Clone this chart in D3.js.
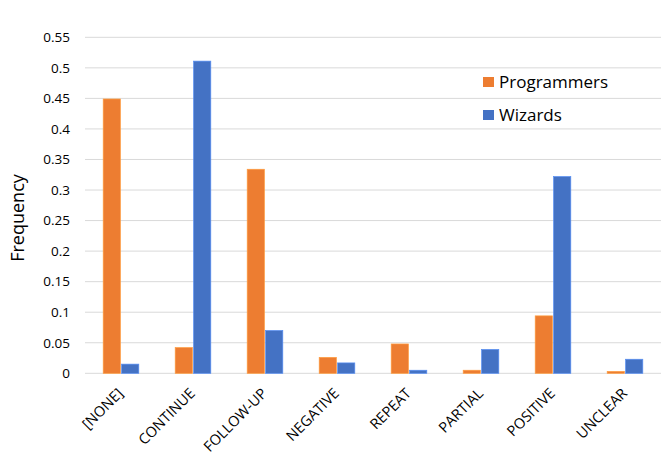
<!DOCTYPE html>
<html><head><meta charset="utf-8">
<script src="https://cdn.jsdelivr.net/npm/d3@7"></script>
<style>body{margin:0;background:#fff;} text{font-family:"Open Sans","Noto Sans",sans-serif;fill:#000;}</style>
</head><body>
<svg id="chart" width="663" height="466"></svg>
<script>
const categories = ["[NONE]","CONTINUE","FOLLOW-UP","NEGATIVE","REPEAT","PARTIAL","POSITIVE","UNCLEAR"];
const seriesNames = ["Programmers","Wizards"];
const programmers = [0.449,0.042,0.334,0.026,0.048,0.005,0.094,0.003];
const wizards = [0.015,0.511,0.070,0.017,0.005,0.039,0.322,0.023];
const yTicks = [0,0.05,0.1,0.15,0.2,0.25,0.3,0.35,0.4,0.45,0.5,0.55];
const colors = ["#ED7D31","#4472C4"];

const svg = d3.select("#chart");
const pLeft = 85, pRight = 661, pTop = 37.3, pBottom = 373.3;
const x = d3.scaleBand().domain(categories).range([pLeft, pRight]).paddingInner(0).paddingOuter(0);
const y = d3.scaleLinear().domain([0,0.55]).range([pBottom, pTop]);
const xs = d3.scaleBand().domain(seriesNames).range([0, 35.6]).paddingInner(0.07);

// gridlines
svg.append("g").selectAll("line").data(yTicks).join("line")
  .attr("x1", pLeft).attr("x2", pRight)
  .attr("y1", d => y(d)).attr("y2", d => y(d))
  .attr("stroke", "#d9d9d9").attr("stroke-width", 1);

// y axis labels
const yAxis = d3.axisLeft(y).tickValues(yTicks).tickFormat(d => String(+d.toFixed(2))).tickSize(0).tickPadding(0);
const ga = svg.append("g").attr("transform", `translate(70,0)`).call(yAxis);
ga.select(".domain").remove();
ga.selectAll("text").attr("font-size", 13.5).attr("fill", "#000").style("font-family", '"Open Sans",sans-serif');

// bars
const data = [programmers, wizards];
const groups = svg.append("g").selectAll("g").data(categories).join("g")
  .attr("transform", d => `translate(${x(d) + x.bandwidth()/2 - 17.8},0)`);
groups.selectAll("rect").data((d,i) => seriesNames.map((s,j) => ({s, v: data[j][i], j}))).join("rect")
  .attr("x", d => xs(d.s))
  .attr("y", d => y(d.v))
  .attr("width", xs.bandwidth())
  .attr("height", d => pBottom - y(d.v))
  .attr("fill", d => colors[d.j])
  .attr("stroke", d => d3.color(colors[d.j]).brighter(0.6))
  .attr("stroke-width", 0.7);

// x labels
const xAxis = d3.axisBottom(x).tickSize(0).tickPadding(0);
const gx = svg.append("g").attr("transform", `translate(0,${pBottom})`).call(xAxis);
gx.select(".domain").remove();
gx.selectAll("text")
  .attr("font-size", 14.5).attr("fill", "#000").style("font-family", '"Open Sans",sans-serif')
  .attr("text-anchor", "end")
  .attr("transform", "translate(3,21) rotate(-45)")
  .attr("dy", 0).attr("y", 0).attr("x", 0);

// y title
svg.append("text").attr("transform", "translate(24,218) rotate(-90)")
  .attr("text-anchor", "middle").attr("font-size", 18).text("Frequency");

// legend
const lg = svg.append("g").selectAll("g").data(seriesNames).join("g")
  .attr("transform", (d,i) => `translate(483,${82 + i*33})`);
lg.append("rect").attr("x", 0).attr("y", -5).attr("width", 11).attr("height", 10).attr("fill", (d,i) => colors[i]);
lg.append("text").attr("x", 16).attr("dy", "0.35em").attr("font-size", 17).text(d => d);
</script>
</body></html>
